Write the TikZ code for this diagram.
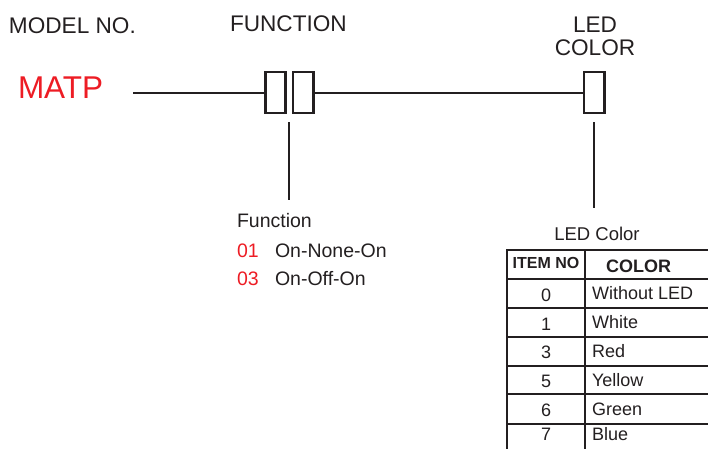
\documentclass[tikz,border=0pt]{standalone}
\usepackage{fontspec}
\setmainfont{Liberation Sans}
\definecolor{ink}{HTML}{231F20}
\definecolor{redtxt}{HTML}{ED1C24}
\begin{document}
\begin{tikzpicture}[x=1pt,y=-1pt,
  txt/.style={inner sep=0pt,outer sep=0pt,text=ink},
  head/.style={txt,font=\fontsize{22.6}{23}\selectfont},
  body/.style={txt,font=\fontsize{19.5}{20}\selectfont},
  cell/.style={txt,font=\fontsize{18}{18}\selectfont},
  hcell/.style={txt,font=\fontsize{16}{16}\selectfont\bfseries},
  box/.style={draw=ink,line width=2.6pt,minimum width=20.3pt,minimum height=41pt,inner sep=0pt,outer sep=0pt},
  wire/.style={draw=ink,line width=2pt},
  grid/.style={draw=ink,line width=2pt}]
\useasboundingbox (0,0) rectangle (708,448);
% titles
\node[head,anchor=base west] (model) at (9,33.5) {MODEL NO.};
\node[head,anchor=base west] (func) at (230,31.7) {FUNCTION};
\node[head,anchor=base] (led1) at (595,32) {LED};
\node[head,anchor=base] (led2) at (595,55) {COLOR};
\node[txt,anchor=base west,text=redtxt,font=\fontsize{31.5}{32}\selectfont] (matp) at (18,98) {MATP};
% boxes
\node[box] (b1) at (275.6,92.5) {};
\node[box] (b2) at (303.1,92.5) {};
\node[box] (b3) at (594.3,92.5) {};
\coordinate (l0) at (133,92.5);
\draw[wire] (l0) -- (b1.west);
\draw[wire] (b2.east) -- (b3.west);
\coordinate (f1) at (288.8,122);
\coordinate (f2) at (288.8,200);
\coordinate (c1) at (594.3,122);
\coordinate (c2) at (594.3,208);
\draw[wire] (f1) -- (f2);
\draw[wire] (c1) -- (c2);
% function list
\node[body,anchor=base west] (ftitle) at (237,227) {Function};
\node[body,anchor=base west,text=redtxt] (n01) at (237,257) {01};
\node[body,anchor=base west] (t01) at (275,257) {On-None-On};
\node[body,anchor=base west,text=redtxt] (n03) at (237,285) {03};
\node[body,anchor=base west] (t03) at (275,285) {On-Off-On};
% LED color table
\node[txt,anchor=base,font=\fontsize{18.5}{19}\selectfont] (ltitle) at (597,240) {LED Color};
\draw[grid] (507,250) -- (712,250);
\foreach \y in {279,308,337,366,394,424} {\draw[grid] (507,\y) -- (712,\y);}
\draw[grid] (507,249) -- (507,450);
\draw[grid] (585,249) -- (585,450);
\node[hcell,anchor=base] (h1) at (546,268) {ITEM NO};
\node[txt,anchor=base west,font=\fontsize{18}{18}\selectfont\bfseries] (h2) at (606,272) {COLOR};
\node[cell,anchor=base] (r0a) at (546,301) {0};
\node[cell,anchor=base west] (r0b) at (592,299) {Without LED};
\node[cell,anchor=base] (r1a) at (546,330) {1};
\node[cell,anchor=base west] (r1b) at (592,328) {White};
\node[cell,anchor=base] (r3a) at (546,358.5) {3};
\node[cell,anchor=base west] (r3b) at (592,357) {Red};
\node[cell,anchor=base] (r5a) at (546,387) {5};
\node[cell,anchor=base west] (r5b) at (592,386) {Yellow};
\node[cell,anchor=base] (r6a) at (546,416) {6};
\node[cell,anchor=base west] (r6b) at (592,415) {Green};
\node[cell,anchor=base] (r7a) at (546,440.5) {7};
\node[cell,anchor=base west] (r7b) at (592,440.5) {Blue};
\end{tikzpicture}
\end{document}
